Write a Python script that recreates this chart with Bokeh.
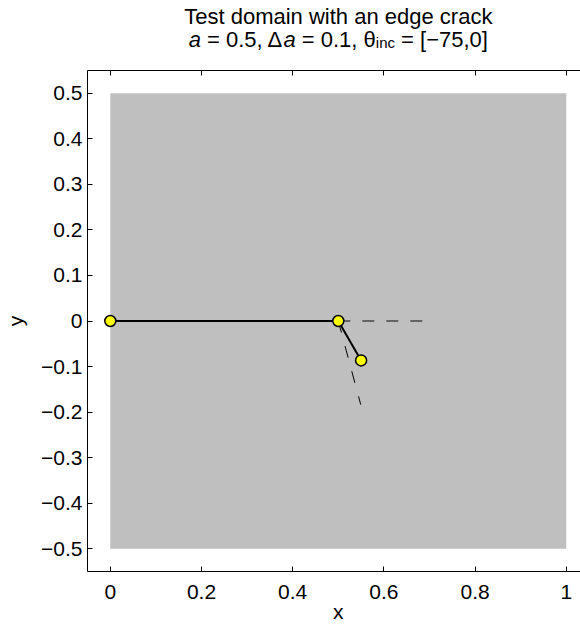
import numpy as np
from bokeh.plotting import figure
from bokeh.models import LinearAxis, FixedTicker, Label, Range1d
from bokeh.embed import file_html
from bokeh.resources import INLINE

# ---- data ----
title_line1 = "Test domain with an edge crack"
domain_x = [0.0, 1.0]
domain_y = [-0.5, 0.5]
crack_x = [0.0, 0.5]
crack_y = [0.0, 0.0]
a = 0.5
da = 0.1
theta_kink = -60.0           # degrees, chosen kink direction
guide_angles = [0.0, -75.0]  # straight prolongation, lower bound of theta_inc
guide_lengths = [0.2, 0.19]
x_lim = [-0.05, 1.05]
y_lim = [-0.55, 0.55]
x_ticks = [0, 0.2, 0.4, 0.6, 0.8, 1.0]
x_tick_labels = ["0", "0.2", "0.4", "0.6", "0.8", "1"]
y_ticks = [-0.5, -0.4, -0.3, -0.2, -0.1, 0.0, 0.1, 0.2, 0.3, 0.4, 0.5]
y_tick_labels = ["\u22120.5", "\u22120.4", "\u22120.3", "\u22120.2", "\u22120.1", "0",
                 "0.1", "0.2", "0.3", "0.4", "0.5"]

FONT = "Liberation Sans"
W_PX, H_PX = 580, 625
AX_LEFT, AX_TOP, AX_BOTTOM = 87, 70, 571   # pixel placement of the axes box
sx = 456.0                                  # px per data unit (x)
sy = (AX_BOTTOM - AX_TOP) / (y_lim[1] - y_lim[0])

x0 = x_lim[0] - AX_LEFT / sx
x1 = x0 + W_PX / sx
y1 = y_lim[1] + AX_TOP / sy
y0 = y1 - H_PX / sy

p = figure(width=W_PX, height=H_PX, x_range=Range1d(x0, x1), y_range=Range1d(y0, y1),
           output_backend="svg", toolbar_location=None, title=None, min_border=0)
p.xgrid.visible = False
p.ygrid.visible = False
p.outline_line_color = None
p.background_fill_color = "white"
p.border_fill_color = "white"

def style_axis(ax, ticks, labels, show_labels=True):
    ax.ticker = FixedTicker(ticks=ticks)
    ax.major_label_overrides = {t: l for t, l in zip(ticks, labels)}
    ax.major_tick_in = 5
    ax.major_tick_out = 0
    ax.minor_tick_in = 0
    ax.minor_tick_out = 0
    ax.axis_line_color = "black"
    ax.axis_line_width = 1
    ax.major_tick_line_color = "black"
    ax.major_label_text_font = FONT
    ax.major_label_text_font_size = "21px" if show_labels else "0px"
    ax.major_label_text_color = "black" if show_labels else None

xa = p.xaxis[0]
style_axis(xa, x_ticks, x_tick_labels)
xa.major_label_standoff = 13
xa.fixed_location = y_lim[0]
xa.bounds = (x_lim[0], x_lim[1])

ya = p.yaxis[0]
style_axis(ya, y_ticks, y_tick_labels)
ya.major_label_standoff = 5
ya.fixed_location = x_lim[0]
ya.bounds = (y_lim[0], y_lim[1])

top = LinearAxis()
style_axis(top, x_ticks, x_tick_labels, show_labels=False)
top.fixed_location = y_lim[1]
top.bounds = (x_lim[0], x_lim[1])
p.add_layout(top, "above")

# domain
p.quad(left=domain_x[0], right=domain_x[1], bottom=domain_y[0], top=domain_y[1],
       fill_color="#bfbfbf", line_color=None)

tip_x, tip_y = crack_x[-1], crack_y[-1]
# guide lines
gx0 = [tip_x, tip_x + guide_lengths[0] * np.cos(np.radians(guide_angles[0]))]
gy0 = [tip_y, tip_y + guide_lengths[0] * np.sin(np.radians(guide_angles[0]))]
p.line(gx0, gy0, line_color="#646464", line_width=2, line_dash="12 12")
gx1 = [tip_x, tip_x + guide_lengths[1] * np.cos(np.radians(guide_angles[1]))]
gy1 = [tip_y, tip_y + guide_lengths[1] * np.sin(np.radians(guide_angles[1]))]
p.line(gx1, gy1, line_color="black", line_width=1, line_dash="12 14")

# crack + kink
p.line(crack_x, crack_y, line_color="black", line_width=2)
kx = [tip_x, tip_x + da * np.cos(np.radians(theta_kink))]
ky = [tip_y, tip_y + da * np.sin(np.radians(theta_kink))]
p.line(kx, ky, line_color="black", line_width=2)

px = [crack_x[0], tip_x, kx[1]]
py = [crack_y[0], tip_y, ky[1]]
p.scatter(px, py, size=11, fill_color="#ffff00", line_color="black", line_width=1.5)

# axis labels
xmid = 0.5 * (x_lim[0] + x_lim[1])
p.add_layout(Label(x=xmid, y=y_lim[0], y_offset=-40, text="x", text_align="center",
                   text_font=FONT, text_font_size="21px", text_baseline="alphabetic",
                   text_color="black"))
p.add_layout(Label(x=x_lim[0], y=0.5 * (y_lim[0] + y_lim[1]), x_offset=-72, text="y",
                   angle=np.pi / 2, text_align="center", text_font=FONT,
                   text_font_size="21px", text_baseline="alphabetic", text_color="black"))

# title
p.add_layout(Label(x=xmid, y=y_lim[1], y_offset=54, text=title_line1, text_align="center",
                   text_font=FONT, text_font_size="22px", text_baseline="alphabetic",
                   text_color="black"))

W = {' ': 278, '=': 584, '0': 556, '1': 556, '5': 556, '7': 556, '.': 278, ',': 278,
     '\u0394': 668, '\u03b8': 556, '[': 278, ']': 278, '\u2212': 584, 'i': 222, 'n': 556,
     'c': 500, 'a': 556}
pieces = [("a", "italic", 22, 0),
          (" = 0.5, \u0394", "normal", 22, 0),
          ("a", "italic", 22, 0),
          (" = 0.1, \u03b8", "normal", 22, 0),
          ("inc", "normal", 15, -3),
          (" = [\u221275,0]", "normal", 22, 0)]

def width(s, size):
    return sum(W.get(ch, 556) for ch in s) * size / 1000.0

total = sum(width(s, sz) for s, _, sz, _ in pieces)
cur = -total / 2.0
for s, st, sz, dy in pieces:
    lead = len(s) - len(s.lstrip(" "))
    txt = s.strip(" ")
    off = cur + lead * 278 * sz / 1000.0
    p.add_layout(Label(x=xmid, y=y_lim[1], x_offset=off, y_offset=31 + dy, text=txt,
                       text_align="left", text_font=FONT, text_font_size=f"{sz}px",
                       text_font_style=st, text_baseline="alphabetic", text_color="black"))
    cur += width(s, sz)

open("out.html", "w").write(file_html(p, INLINE))
